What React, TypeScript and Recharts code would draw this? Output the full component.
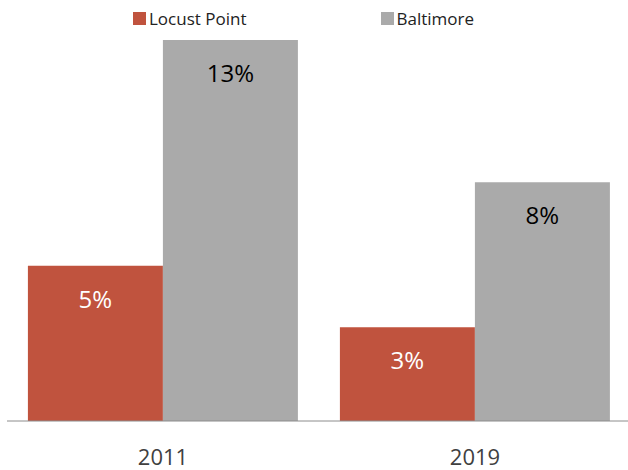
import { BarChart, Bar, XAxis, YAxis, Legend, LabelList } from 'recharts'

const years = ['2011', '2019']
const locustPoint = [5.3, 3.2]
const baltimore = [13.0, 8.15]
const seriesNames = ['Locust Point', 'Baltimore']

const data = years.map((year, i) => ({
  year,
  locust: locustPoint[i],
  baltimore: baltimore[i],
}))

const FONT = '"Open Sans", "Noto Sans", sans-serif'
const RED = '#c0533e'
const GREY = '#aaaaaa'
const seriesColors = [RED, GREY]

const pct = (v: any) => `${Number(v).toFixed(0)}%`

const renderLegend = () => (
  <div style={{ display: 'flex', paddingLeft: 133 }}>
    {seriesNames.map((name, i) => (
      <div key={name} style={{ width: 288, display: 'flex', alignItems: 'center', fontSize: 17, color: '#222', fontFamily: FONT }}>
        <span style={{ width: 13, height: 13, background: seriesColors[i], marginRight: 3, display: 'inline-block' }} />
        {name}
      </div>
    ))}
  </div>
)

export default function App() {
  return (
    <div style={{ position: 'absolute', left: 0, top: 0, width: 628, height: 470, overflow: 'hidden', background: '#fff' }}>
      <BarChart
        width={632}
        height={470}
        data={data}
        margin={{ top: 40, right: 1, bottom: 0, left: 7 }}
        barCategoryGap="6.7%"
        barGap={0}
      >
        <YAxis hide domain={[0, 13]} />
        {/* plain axis line with ticks at the category edges */}
        <XAxis
          xAxisId="a"
          type="number"
          domain={[0, 2]}
          ticks={[0, 1, 2]}
          tick={false}
          tickSize={8}
          height={1}
          stroke="#8c8c8c"
          allowDataOverflow
        />
        <XAxis
          xAxisId="b"
          dataKey="year"
          axisLine={false}
          tickLine={false}
          height={48}
          tickMargin={0}
          tick={{ fill: '#404040', fontSize: 22, fontFamily: FONT, dy: 21 }}
        />
        <Legend
          verticalAlign="middle"
          content={renderLegend}
          wrapperStyle={{ top: 7, left: 0, width: 628 }}
        />
        <Bar xAxisId="b" dataKey="locust" name="Locust Point" fill={RED} isAnimationActive={false}>
          <LabelList dataKey="locust" position="insideTop" offset={25} formatter={pct} fill="#fff" fontSize={24} fontFamily={FONT} />
        </Bar>
        <Bar xAxisId="b" dataKey="baltimore" name="Baltimore" fill={GREY} isAnimationActive={false}>
          <LabelList dataKey="baltimore" position="insideTop" offset={25} formatter={pct} fill="#000" fontSize={24} fontFamily={FONT} />
        </Bar>
      </BarChart>
    </div>
  )
}
